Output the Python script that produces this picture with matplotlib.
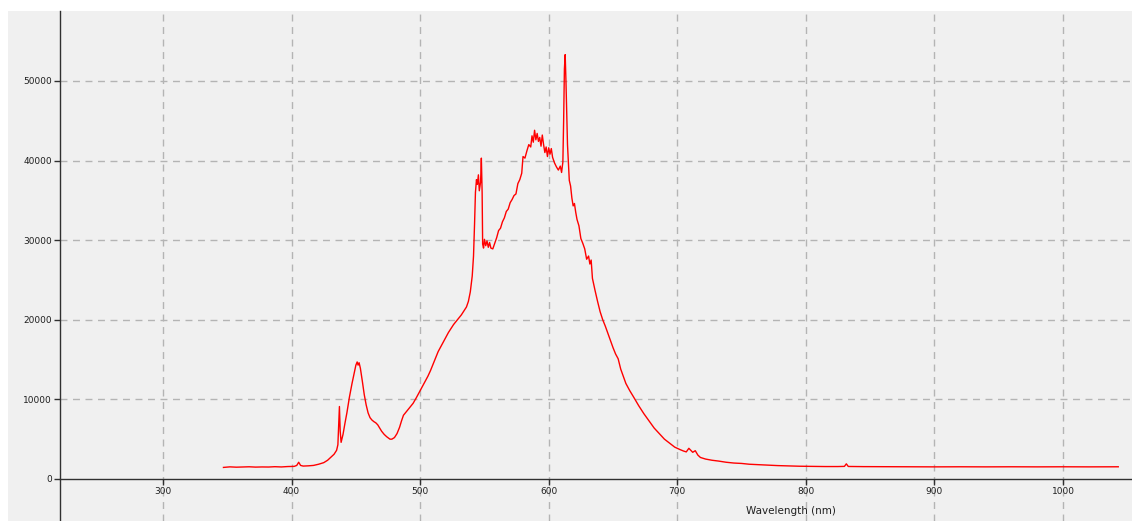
import matplotlib.pyplot as plt

# Spectrum (wavelength in nm, intensity in counts)
wavelength = [
    347, 352, 357, 362, 367, 372, 377, 382, 387, 392, 397, 402, 404, 405.5, 407, 409,
    413, 417, 421, 425, 428, 431, 433, 435, 436, 436.7, 437.2, 437.8, 438.5, 440,
    441.5, 443, 445, 447, 449, 450, 451, 451.7, 452.5, 453.5, 455, 456.5, 458, 459.5,
    461, 462.5, 464, 465.5, 467, 468.5, 470, 472, 474, 476.5, 478, 480, 482, 484,
    485.5, 487, 488.5, 490, 492, 494.5, 497, 500, 502, 504, 506, 508, 510, 512, 514,
    516, 518, 520, 522, 524, 526, 528, 530, 532, 534, 536, 537.5, 539, 540.5, 541.5,
    542.3, 543, 543.8, 544.5, 545.3, 546, 547, 547.6, 548.2, 548.6, 549.3, 550, 551,
    552, 553, 554, 555, 556.5, 558, 559.5, 561, 562.5, 564, 565.5, 567, 568.5, 570,
    571.5, 573, 574.5, 576, 577.5, 579, 580, 581.5, 583, 584.5, 586, 587, 588, 589,
    590, 591, 592, 593, 594, 595, 596, 597, 598, 599, 600, 601, 602, 603, 604.5, 606,
    607.5, 609, 610, 611, 611.6, 612.2, 612.8, 613.4, 614, 614.6, 615.2, 616, 617,
    618, 619, 620, 621, 622, 623.5, 625, 626.5, 628, 629.5, 631, 632, 633, 634, 636,
    638, 640, 642, 644, 646, 648, 650, 652, 654, 656, 658, 660, 663, 666, 670, 674,
    678, 682, 686, 690, 694, 698, 702, 705, 707, 709, 710.5, 712, 714, 716, 718, 722,
    727, 732, 738, 744, 750, 756, 762, 770, 778, 786, 795, 805, 815, 825, 830, 831.5,
    833, 845, 860, 880, 900, 920, 940, 960, 980, 1000, 1020, 1043,
]
intensity = [
    1450, 1520, 1480, 1500, 1530, 1490, 1510, 1500, 1540, 1510, 1560, 1580, 1700, 2100, 1700, 1620,
    1650, 1700, 1850, 2050, 2350, 2800, 3100, 3600, 4300, 7000, 9100, 6000, 4600, 5600,
    7000, 8300, 10300, 12000, 13500, 14300, 14700, 14300, 14600, 13900, 12300, 10600, 9300, 8300,
    7700, 7400, 7200, 7050, 6800, 6400, 6000, 5600, 5300, 5000, 5000, 5200, 5700, 6500,
    7300, 8000, 8300, 8600, 9000, 9500, 10200, 11100, 11700, 12300, 12900, 13600, 14400, 15200, 16000,
    16600, 17200, 17800, 18400, 18900, 19400, 19800, 20200, 20600, 21100, 21600, 22300, 23500, 25500, 28000,
    32000, 36000, 37600, 37000, 38200, 36200, 37300, 40300, 36000, 29500, 29000, 30100, 29300,
    29900, 29100, 29700, 29000, 28900, 29600, 30300, 31200, 31500, 32300, 32800, 33600, 33900, 34700,
    35100, 35600, 35800, 37100, 37600, 38400, 40500, 40300, 41200, 42000, 41700, 43100, 42300, 43800,
    42600, 43400, 42400, 42900, 41800, 43200, 42000, 41000, 41700, 40500, 41600, 40800, 41500, 40400, 39700, 39200,
    38800, 39300, 38500, 39800, 45000, 51500, 53300, 50000, 46000, 42000, 40000, 37500, 36800,
    35300, 34300, 34600, 33500, 32600, 31800, 30200, 29600, 28900, 27600, 28000, 27000, 27500, 25200, 23700,
    22300, 21000, 20000, 19200, 18300, 17400, 16500, 15700, 15100, 13800, 12900, 12000, 11100, 10300, 9200, 8200,
    7300, 6400, 5700, 5000, 4500, 4000, 3700, 3500, 3400, 3850, 3600, 3350, 3550, 3000, 2700, 2500,
    2350, 2250, 2100, 2000, 1950, 1850, 1800, 1720, 1680, 1640, 1600, 1580, 1560, 1560, 1580, 1900,
    1570, 1550, 1540, 1530, 1520, 1530, 1520, 1530, 1520, 1530, 1520, 1530,
]

x_ticks = [300, 400, 500, 600, 700, 800, 900, 1000]
y_ticks = [0, 10000, 20000, 30000, 40000, 50000]

x_min, x_max = 179.4, 1053.7
y_min, y_max = -5280, 58780
y_axis_at = 220

fig = plt.figure(figsize=(11.32, 5.21), dpi=100)
fig.patch.set_facecolor('white')
ax = fig.add_axes([8 / 1132, 0, 1124 / 1132, 510 / 521])
ax.set_facecolor('#f0f0f0')
ax.set_xlim(x_min, x_max)
ax.set_ylim(y_min, y_max)

# dashed grid, only right of the y axis for the horizontal lines
grid_style = dict(color='#b4b4b4', linewidth=1, linestyles=(0, (5, 4)), zorder=1)
ax.vlines(x_ticks, y_min, y_max, **grid_style)
ax.hlines(y_ticks[1:], y_axis_at, x_max, **grid_style)

ax.plot(wavelength, intensity, color='#ff0000', linewidth=1, zorder=3)

# axes cross at (220, 0)
for side in ['top', 'right']:
    ax.spines[side].set_visible(False)
ax.spines['left'].set_position(('data', y_axis_at))
ax.spines['bottom'].set_position(('data', 0))
ax.spines['bottom'].set_bounds(y_axis_at, x_max)
for side in ['left', 'bottom']:
    ax.spines[side].set_color('#303030')
    ax.spines[side].set_linewidth(1)

ax.set_xticks(x_ticks)
ax.set_yticks(y_ticks)
ax.tick_params(axis='both', direction='out', length=4, width=1, color='#303030',
               labelsize=6.5, labelcolor='#202020', pad=2)

fig.text(791 / 1132, 1 - 511 / 521, 'Wavelength (nm)', ha='center', va='center',
         fontsize=7.5, color='#202020')

plt.savefig('out.png', dpi=100)
